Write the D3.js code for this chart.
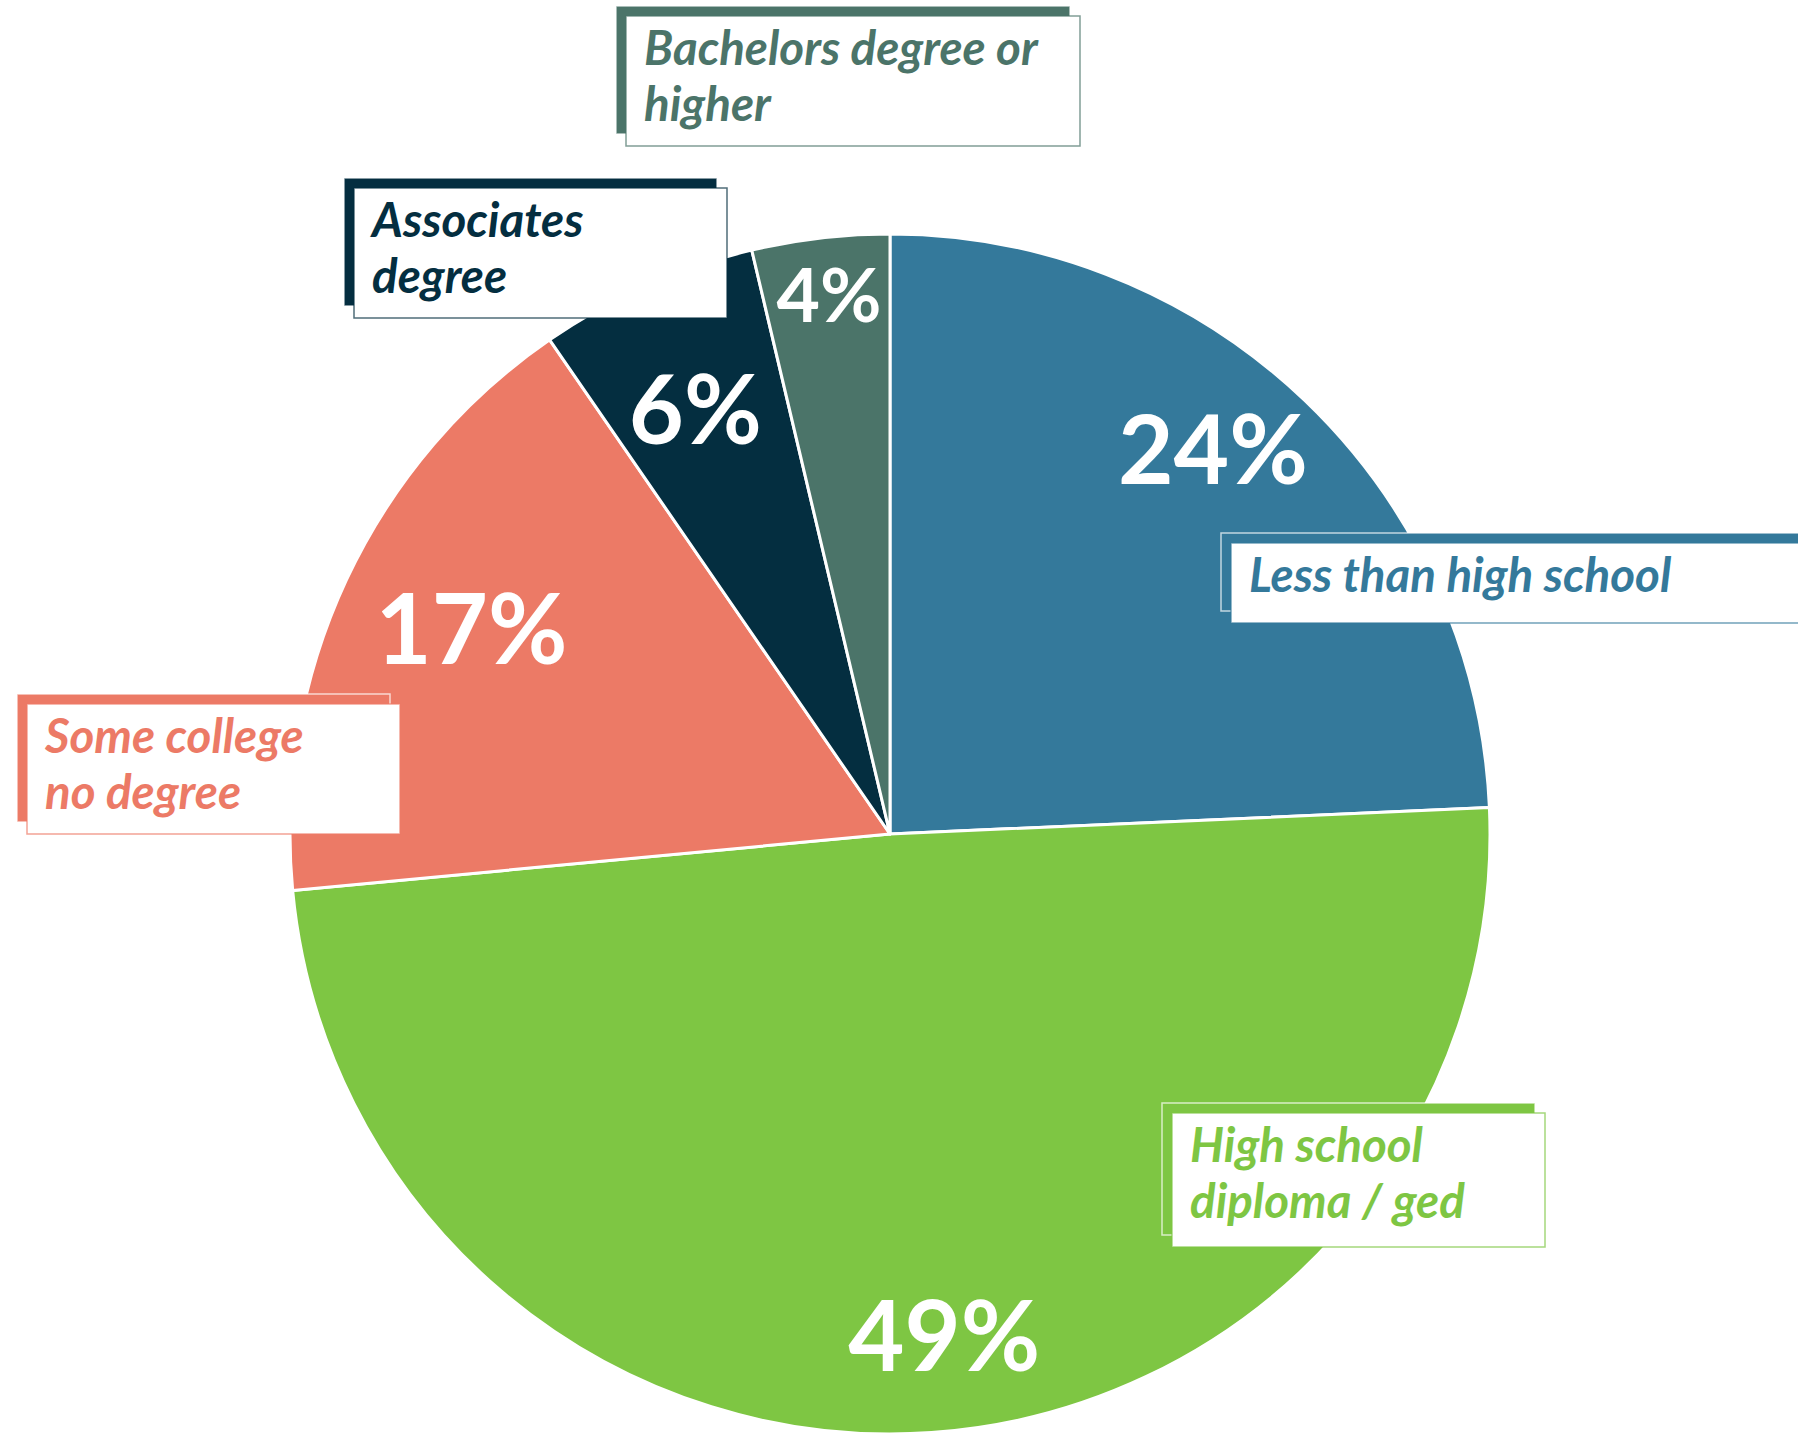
<!DOCTYPE html>
<html lang="en">
<head>
<meta charset="UTF-8">
<title>Education attainment</title>
<script src="https://d3js.org/d3.v7.min.js"></script>
<style>
  body { margin: 0; background: #fff; }
  svg { display: block; }
</style>
</head>
<body>
<svg id="chart" width="1798" height="1434"></svg>
<script>
// data, clockwise from 12 o'clock
var categories = ["Less than high school", "High school diploma / ged", "Some college no degree", "Associates degree", "Bachelors degree or higher"];
var shares = [24.3, 49.2, 16.9, 5.9, 3.7];
var labelLines = [
  ["Less than high school"],
  ["High school", "diploma / ged"],
  ["Some college", "no degree"],
  ["Associates", "degree"],
  ["Bachelors degree or", "higher"]
];
var colors = ["#34799b", "#7ec643", "#ec7a66", "#042e40", "#4b7469"];

// layout only
var cx = 890, cy = 834, R = 600;
// percent label: radius, angle nudge (deg), font size
var pctPos = [[502, -3.7, 96], [505, -2.2, 97], [466, 1.1, 97], [467, -0.7, 95], [542, 0.2, 75]];
// label boxes: x, y, w, h of the coloured back box
var boxes = [
  [1221, 533, 620, 78],
  [1162, 1103, 373, 132],
  [17, 694, 373, 128],
  [344, 178, 373, 128],
  [616, 6, 454, 128]
];
var off = 10;

var svg = d3.select("#chart");
var g = svg.append("g").attr("transform", "translate(" + cx + "," + cy + ")");

var pie = d3.pie().sort(null).value(function(d){ return d; });
var arcs = pie(shares);
var arc = d3.arc().innerRadius(0).outerRadius(R);

g.selectAll("path.slice")
  .data(arcs)
  .enter()
  .append("path")
    .attr("class", "slice")
    .attr("d", arc)
    .attr("fill", function(d, i){ return colors[i]; })
    .attr("stroke", "#fff")
    .attr("stroke-width", 3)
    .attr("stroke-linejoin", "round");

// percentages
g.selectAll("text.pct")
  .data(arcs)
  .enter()
  .append("text")
    .attr("class", "pct")
    .attr("transform", function(d, i){
      var a = (d.startAngle + d.endAngle) / 2 + pctPos[i][1] * Math.PI / 180;
      var r = pctPos[i][0];
      return "translate(" + (r * Math.sin(a)) + "," + (-r * Math.cos(a)) + ")";
    })
    .attr("text-anchor", "middle")
    .attr("dy", "0.36em")
    .style("font-family", "Lato, 'Open Sans', sans-serif")
    .style("font-weight", 700)
    .style("font-size", function(d, i){ return pctPos[i][2] + "px"; })
    .style("fill", "#fff")
    .text(function(d){ return Math.round(d.data) + "%"; });

// label boxes
var lab = svg.selectAll("g.lab")
  .data(categories)
  .enter()
  .append("g")
    .attr("class", "lab");

lab.append("rect")
  .attr("x", function(d, i){ return boxes[i][0]; })
  .attr("y", function(d, i){ return boxes[i][1]; })
  .attr("width", function(d, i){ return boxes[i][2]; })
  .attr("height", function(d, i){ return boxes[i][3]; })
  .attr("fill", function(d, i){ return colors[i]; })
  .attr("stroke", "#fff")
  .attr("stroke-opacity", 0.7)
  .attr("stroke-width", 1.5);

lab.append("rect")
  .attr("x", function(d, i){ return boxes[i][0] + off; })
  .attr("y", function(d, i){ return boxes[i][1] + off; })
  .attr("width", function(d, i){ return boxes[i][2]; })
  .attr("height", function(d, i){ return boxes[i][3] + 2; })
  .attr("fill", "#fff")
  .attr("stroke", function(d, i){ return colors[i]; })
  .attr("stroke-opacity", 0.7)
  .attr("stroke-width", 1.5);

lab.append("text")
  .attr("x", function(d, i){ return boxes[i][0] + 28; })
  .attr("y", function(d, i){ return boxes[i][1] + 59; })
  .style("font-family", "Lato, 'Open Sans', sans-serif")
  .style("font-style", "italic")
  .style("font-weight", 700)
  .style("font-size", "47.5px")
  .style("fill", function(d, i){ return colors[i]; })
  .selectAll("tspan")
  .data(function(d, i){ return labelLines[i]; })
  .enter()
  .append("tspan")
    .attr("x", function(){ return this.parentNode.getAttribute("x"); })
    .attr("dy", function(d, j){ return j === 0 ? 0 : 56; })
    .text(function(d){ return d; });
</script>
</body>
</html>
